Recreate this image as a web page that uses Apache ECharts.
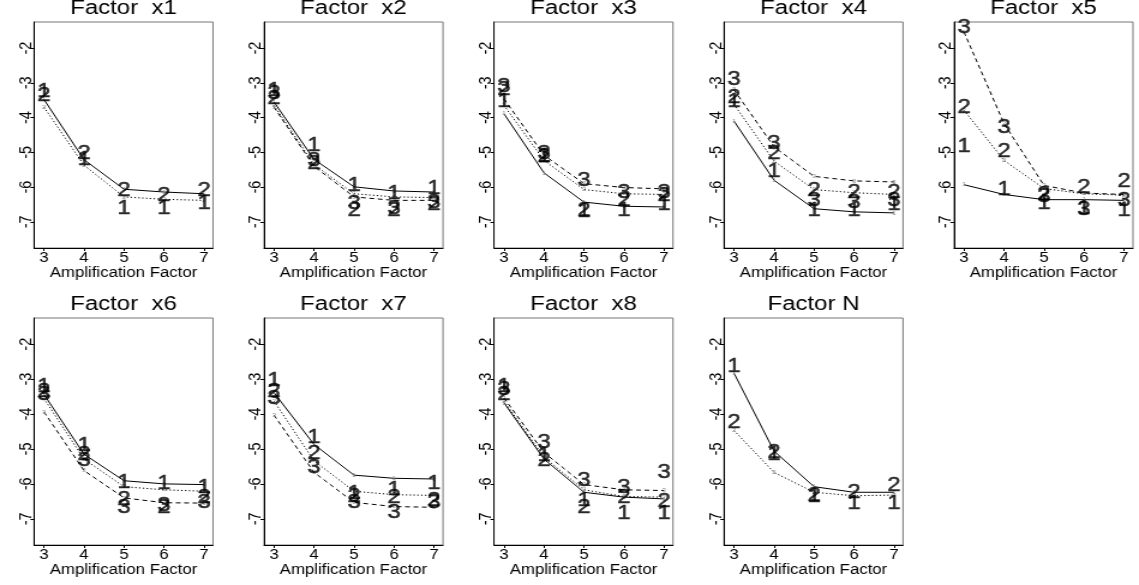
<!DOCTYPE html>
<html>
<head>
<meta charset="utf-8">
<script src="https://cdn.jsdelivr.net/npm/echarts@6/dist/echarts.min.js"></script>
<style>
  html, body { margin: 0; padding: 0; background: #fff; overflow: hidden; }
  /* the panel grid is laid out on a narrower canvas and widened, so glyphs come out broad */
  #chart { width: 949px; height: 585px; transform: scaleX(1.2002); transform-origin: 0 0; }
</style>
</head>
<body>
<div id="chart"></div>
<script>
// Amplification factor levels on the x axis and the y tick values
const amplification = [3, 4, 5, 6, 7];
const yTicks = [-7, -6, -5, -4, -3, -2];
const panelTitles = ['Factor  x1', 'Factor  x2', 'Factor  x3', 'Factor  x4', 'Factor  x5',
                     'Factor  x6', 'Factor  x7', 'Factor  x8', 'Factor N'];

// Per-factor level means (row k = level k+1), drawn as lines
const x1Means = [[-3.48, -5.21, -6.06, -6.14, -6.19],
                 [-3.70, -5.37, -6.28, -6.35, -6.38]];
const x2Means = [[-3.55, -5.20, -5.99, -6.11, -6.14],
                 [-3.65, -5.35, -6.19, -6.28, -6.30],
                 [-3.70, -5.40, -6.28, -6.38, -6.38]];
const x3Means = [[-3.89, -5.59, -6.43, -6.55, -6.57],
                 [-3.65, -5.23, -6.07, -6.19, -6.21],
                 [-3.46, -5.08, -5.90, -6.01, -6.05]];
const x4Means = [[-4.10, -5.80, -6.62, -6.71, -6.74],
                 [-3.62, -5.25, -6.07, -6.16, -6.21],
                 [-3.20, -4.84, -5.69, -5.82, -5.85]];
const x5Means = [[-5.93, -6.21, -6.36, -6.36, -6.38],
                 [-3.79, -5.23, -6.04, -6.19, -6.23],
                 [-1.54, -4.17, -5.95, -6.17, -6.21]];
const x6Means = [[-3.44, -5.15, -5.91, -6.00, -6.02],
                 [-3.56, -5.29, -6.08, -6.17, -6.21],
                 [-3.94, -5.62, -6.40, -6.54, -6.55]];
const x7Means = [[-3.39, -4.87, -5.75, -5.84, -5.86],
                 [-3.63, -5.34, -6.21, -6.31, -6.33],
                 [-4.03, -5.67, -6.53, -6.65, -6.67]];
const x8Means = [[-3.68, -5.29, -6.24, -6.38, -6.43],
                 [-3.63, -5.24, -6.17, -6.36, -6.38],
                 [-3.54, -5.10, -6.02, -6.17, -6.19]];
const nMeans  = [[-2.83, -5.06, -6.08, -6.24, -6.24],
                 [-4.47, -5.67, -6.24, -6.34, -6.32]];

// Per-factor level values drawn as large level digits
const x1Marks = [[-3.25, -5.21, -6.62, -6.62, -6.47],
                 [-3.35, -5.02, -6.11, -6.23, -6.11]];
const x2Marks = [[-3.22, -4.80, -5.95, -6.17, -6.04],
                 [-3.45, -5.32, -6.68, -6.68, -6.49],
                 [-3.30, -5.23, -6.47, -6.62, -6.43]];
const x3Marks = [[-3.55, -5.13, -6.71, -6.66, -6.49],
                 [-3.20, -5.13, -6.66, -6.38, -6.23],
                 [-3.10, -5.04, -5.80, -6.14, -6.14]];
const x4Marks = [[-3.55, -5.56, -6.68, -6.66, -6.49],
                 [-3.41, -5.04, -6.11, -6.14, -6.14],
                 [-2.90, -4.75, -6.38, -6.45, -6.38]];
const x5Marks = [[-4.82, -6.06, -6.47, -6.62, -6.66],
                 [-3.70, -4.97, -6.21, -6.00, -5.85],
                 [-1.40, -4.29, -6.27, -6.64, -6.38]];
const x6Marks = [[-3.22, -4.91, -5.96, -6.00, -6.10],
                 [-3.35, -5.15, -6.46, -6.67, -6.38],
                 [-3.45, -5.34, -6.67, -6.62, -6.53]];
const x7Marks = [[-3.04, -4.68, -6.27, -6.15, -6.00],
                 [-3.35, -5.13, -6.36, -6.38, -6.48],
                 [-3.56, -5.53, -6.53, -6.81, -6.53]];
const x8Marks = [[-3.20, -5.20, -6.48, -6.84, -6.84],
                 [-3.44, -5.34, -6.67, -6.38, -6.50],
                 [-3.30, -4.82, -5.91, -6.10, -5.67]];
const nMarks  = [[-2.64, -5.15, -6.37, -6.57, -6.57],
                 [-4.25, -5.10, -6.34, -6.24, -6.05]];

const allMeans = [x1Means, x2Means, x3Means, x4Means, x5Means, x6Means, x7Means, x8Means, nMeans];
const allMarks = [x1Marks, x2Marks, x3Marks, x4Marks, x5Marks, x6Marks, x7Marks, x8Marks, nMarks];

const FONT = '"Liberation Sans", Arial, Helvetica, sans-serif';
const SX = 1.2002;                       // horizontal widening of the canvas
const lineTypes = ['solid', [1.2, 2], [4, 3]];

const grids = [], xAxes = [], yAxes = [], titles = [], series = [];

panelTitles.forEach((title, i) => {
  const row = Math.floor(i / 5), col = i % 5;
  const left = (34 + 230 * col) / SX;
  const top = row === 0 ? 22 : 318;
  const height = row === 0 ? 226 : 227;
  const width = 179 / SX;

  grids.push({ left, top, width, height, show: true, borderColor: '#777', borderWidth: 1 });

  titles.push({
    text: title, left: left + width / 2, top: top - 24, padding: 0,
    textAlign: 'center', textVerticalAlign: 'top',
    textStyle: { fontFamily: FONT, fontSize: 20, fontWeight: 'normal', color: '#000' }
  });

  xAxes.push({
    gridIndex: i, type: 'value', min: 2.75, max: 7.225,
    axisLine: { show: true, onZero: false, lineStyle: { color: '#000', width: 1 } },
    axisTick: { show: true, length: 3, customValues: amplification, lineStyle: { color: '#000' } },
    axisLabel: { customValues: amplification, fontFamily: FONT, fontSize: 14, color: '#000', margin: 3 },
    splitLine: { show: false },
    name: 'Amplification Factor', nameLocation: 'middle', nameGap: 18,
    nameTextStyle: { fontFamily: FONT, fontSize: 14, color: '#000' }
  });

  yAxes.push({
    gridIndex: i, type: 'value', min: -7.75, max: -1.25,
    axisLine: { show: true, onZero: false, lineStyle: { color: '#000', width: 1 } },
    axisTick: { show: true, length: 3, customValues: yTicks, lineStyle: { color: '#000' } },
    axisLabel: { customValues: yTicks, rotate: 90, fontFamily: FONT, fontSize: 14.5, color: '#000', margin: -1,
                 formatter: v => String(v) },
    splitLine: { show: false }
  });

  allMeans[i].forEach((vals, k) => {
    series.push({
      type: 'line', xAxisIndex: i, yAxisIndex: i, z: 2,
      data: amplification.map((a, j) => [a, vals[j]]),
      lineStyle: { color: '#000', width: 1, type: lineTypes[k] },
      symbol: 'circle', symbolSize: 1, itemStyle: { color: 'rgba(0,0,0,0)' },
      label: { show: true, position: 'inside', formatter: String(k + 1),
               fontFamily: FONT, fontSize: 6, color: '#8a8a8a', textBorderWidth: 0 },
      silent: true
    });
  });

  allMarks[i].forEach((vals, k) => {
    series.push({
      type: 'scatter', xAxisIndex: i, yAxisIndex: i, z: 3, clip: false,
      data: amplification.map((a, j) => [a, vals[j]]),
      symbol: 'circle', symbolSize: 1, itemStyle: { color: 'rgba(0,0,0,0)' },
      label: { show: true, position: 'inside', formatter: String(k + 1),
               fontFamily: FONT, fontSize: 20, color: '#000',
               textBorderColor: '#000', textBorderWidth: 0.5 },
      silent: true
    });
  });
});

const chart = echarts.init(document.getElementById('chart'), null, { renderer: 'canvas' });
chart.setOption({
  animation: false,
  backgroundColor: '#fff',
  title: titles,
  grid: grids,
  xAxis: xAxes,
  yAxis: yAxes,
  series: series
});
</script>
</body>
</html>
